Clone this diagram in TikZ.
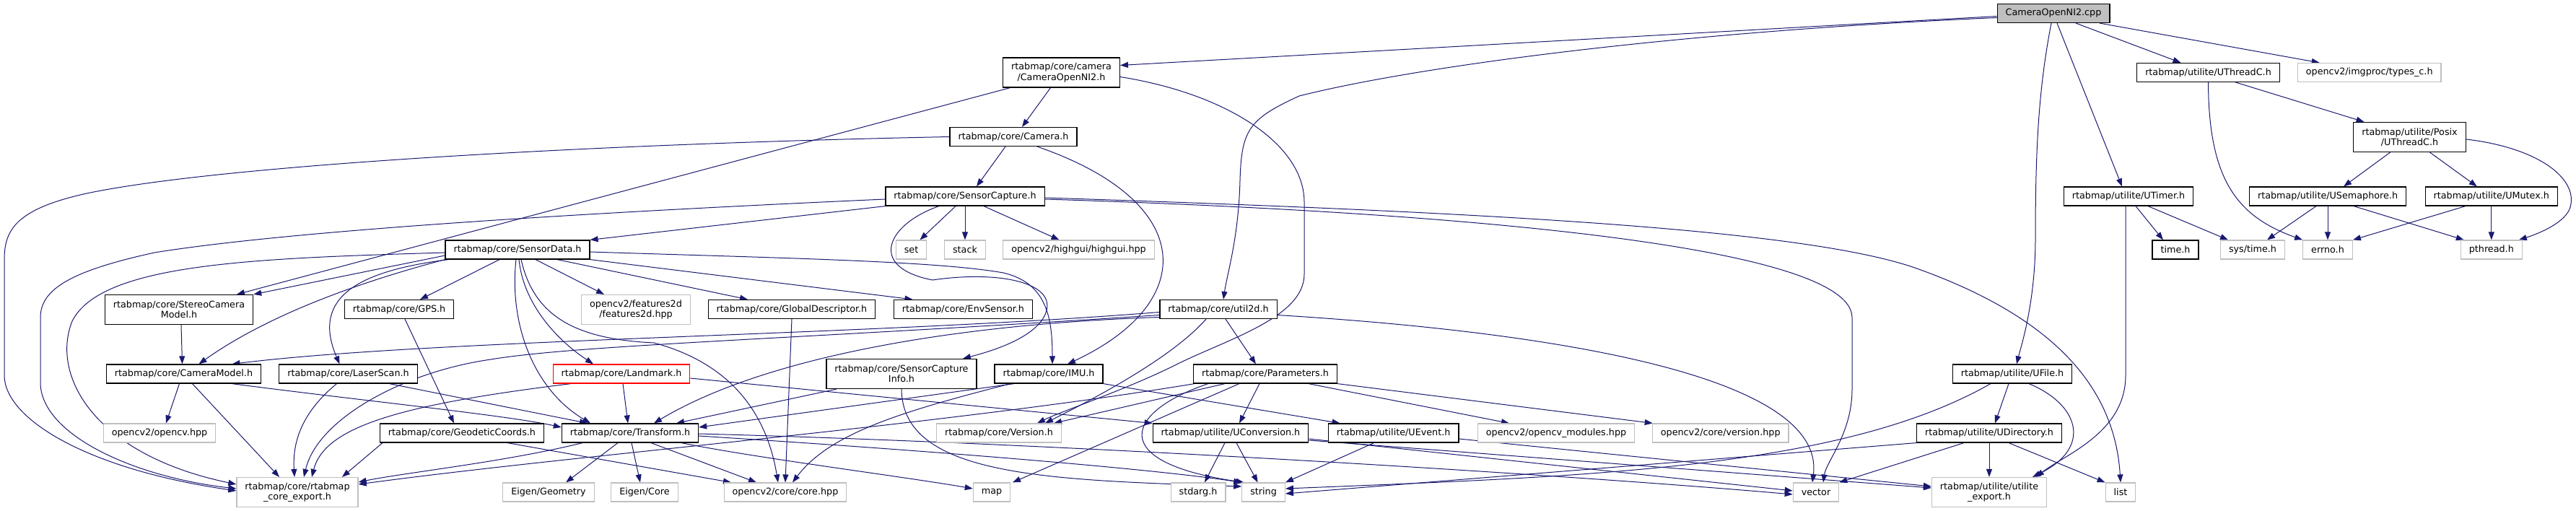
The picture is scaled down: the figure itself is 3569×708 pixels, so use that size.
\documentclass[tikz,border=0pt]{standalone}
\usepackage{fontspec}
\setmainfont{DejaVu Sans}
\usetikzlibrary{arrows.meta}
\definecolor{edgecol}{RGB}{25,25,112}
\definecolor{graybd}{RGB}{191,191,191}
\definecolor{rootfill}{RGB}{191,191,191}
\pgfdeclarelayer{bg}
\pgfsetlayers{bg,main}
\begin{document}
\begin{tikzpicture}[x=1pt,y=-1pt,
  nbase/.style={draw, rectangle, fill=white, inner xsep=11.5pt, inner ysep=0pt, minimum height=26pt,
    font=\fontsize{12.75}{14.3}\selectfont, line width=1.2pt, align=center, anchor=center},
  nd/.style={nbase, draw=black},
  ng/.style={nbase, draw=graybd},
  nroot/.style={nbase, draw=black, fill=rootfill},
  nred/.style={nbase, draw=red},
  ntwo/.style={minimum height=41pt},
  dep/.style={draw=edgecol, line width=1pt, -{Triangle[length=11pt,width=8pt]}}
]
\useasboundingbox (0,0) rectangle (3569,708);

% ---------- nodes ----------
\node[nroot] (cpp) at (2845,18.5) {CameraOpenNI2.cpp};
\node[nd,ntwo] (camh) at (1470.5,100.5) {rtabmap/core/camera\\/CameraOpenNI2.h};
\node[nd] (cam) at (1404,189.5) {rtabmap/core/Camera.h};
\node[nd] (sc) at (1337,272) {rtabmap/core/SensorCapture.h};
\node[ng] (set) at (1262.5,346) {set};
\node[ng] (stack) at (1337,346) {stack};
\node[ng] (hg) at (1494.5,346) {opencv2/highgui/highgui.hpp};
\node[nd] (sd) at (717,346) {rtabmap/core/SensorData.h};
\node[nd] (uth) at (3059.5,100.5) {rtabmap/utilite/UThreadC.h};
\node[ng] (tyc) at (3282.7,100.5) {opencv2/imgproc/types\_c.h};
\node[nd,ntwo] (posix) at (3338.5,190) {rtabmap/utilite/Posix\\/UThreadC.h};
\node[nd] (usem) at (3225,272) {rtabmap/utilite/USemaphore.h};
\node[nd] (umut) at (3451.8,272) {rtabmap/utilite/UMutex.h};
\node[ng] (systm) at (3121,346) {sys/time.h};
\node[ng] (errno) at (3225,346) {errno.h};
\node[ng] (pth) at (3451.8,346) {pthread.h};
\node[nd] (utim) at (2949,272) {rtabmap/utilite/UTimer.h};
\node[nd] (timeh) at (3014,346) {time.h};
\node[nd] (u2d) at (1688,428.5) {rtabmap/core/util2d.h};
\node[nd] (par) at (1753,518) {rtabmap/core/Parameters.h};
\node[nd] (imu) at (1453,518) {rtabmap/core/IMU.h};
\node[nd,ntwo] (sci) at (1249,518) {rtabmap/core/SensorCapture\\Info.h};
\node[nd] (env) at (1334.5,428.5) {rtabmap/core/EnvSensor.h};
\node[nd] (gd) at (1097,428.5) {rtabmap/core/GlobalDescriptor.h};
\node[ng,ntwo] (f2d) at (881,429) {opencv2/features2d\\/features2d.hpp};
\node[nd] (gps) at (553,428.5) {rtabmap/core/GPS.h};
\node[nd,ntwo] (scm) at (248,429) {rtabmap/core/StereoCamera\\Model.h};
\node[nd] (cm) at (254.5,518) {rtabmap/core/CameraModel.h};
\node[nd] (ls) at (482.5,518) {rtabmap/core/LaserScan.h};
\node[nred] (lm) at (861,518) {rtabmap/core/Landmark.h};
\node[ng] (ocv) at (221,600) {opencv2/opencv.hpp};
\node[nd] (geo) at (640,600) {rtabmap/core/GeodeticCoords.h};
\node[nd] (tr) at (873,600) {rtabmap/core/Transform.h};
\node[ng,ntwo] (exp) at (412,682) {rtabmap/core/rtabmap\\\_core\_export.h};
\node[ng] (eg) at (760,682) {Eigen/Geometry};
\node[ng] (ec) at (893,682) {Eigen/Core};
\node[ng] (cch) at (1088,682) {opencv2/core/core.hpp};
\node[ng] (ver) at (1384,600) {rtabmap/core/Version.h};
\node[nd] (uconv) at (1705,600) {rtabmap/utilite/UConversion.h};
\node[nd] (uev) at (1930.6,600) {rtabmap/utilite/UEvent.h};
\node[ng] (ocvm) at (2156,600) {opencv2/opencv\_modules.hpp};
\node[ng] (cvv) at (2383.7,600) {opencv2/core/version.hpp};
\node[ng] (map) at (1374,682) {map};
\node[ng] (stdarg) at (1660,682) {stdarg.h};
\node[ng] (str) at (1750.6,682) {string};
\node[ng] (vec) at (2516,682) {vector};
\node[ng,ntwo] (uexp) at (2756,682) {rtabmap/utilite/utilite\\\_export.h};
\node[ng] (lst) at (2938,682) {list};
\node[nd] (ufile) at (2788,518) {rtabmap/utilite/UFile.h};
\node[nd] (udir) at (2756,600) {rtabmap/utilite/UDirectory.h};

% ---------- edges ----------
\begin{pgfonlayer}{bg}
% CameraOpenNI2.cpp
\draw[dep] ([yshift=-4pt]cpp.west) -- ([yshift=10pt]camh.east);
\draw[dep] ([yshift=-6pt]cpp.west) .. controls (2300,45) and (1950,95) .. (1800,133) .. controls (1730,165) and (1720,180) .. (1718,250) .. controls (1716,330) and (1700,380) .. ([xshift=7pt]u2d.north);
\draw[dep] ([xshift=-3pt]cpp.south) .. controls (2825,120) and (2820,200) .. (2820,330) .. controls (2820,420) and (2800,480) .. ([xshift=6pt]ufile.north);
\draw[dep] ([xshift=5pt]cpp.south) -- ([xshift=-9pt]utim.north);
\draw[dep] ([xshift=31pt]cpp.south) -- ([xshift=-38pt]uth.north);
\draw[dep] ([xshift=64pt]cpp.south) -- ([xshift=-69pt]tyc.north);
% CameraOpenNI2.h
\draw[dep] ([xshift=-71pt]camh.south) -- ([xshift=80pt]scm.north);
\draw[dep] ([xshift=-15pt]camh.south) -- ([xshift=12pt]cam.north);
\draw[dep] ([yshift=-6pt]camh.east) .. controls (1700,130) and (1807,200) .. (1807,280) -- (1807,380) .. controls (1807,440) and (1700,470) .. (1630,505) .. controls (1560,540) and (1470,570) .. ([xshift=53pt]ver.north);
% Camera.h
\draw[dep] (cam.west) .. controls (800,200) and (300,230) .. (120,268) .. controls (20,290) and (6,320) .. (6,360) -- (6,520) .. controls (6,580) and (120,650) .. ([yshift=2pt]exp.west);
\draw[dep] ([xshift=-11pt]cam.south) -- ([xshift=16pt]sc.north);
\draw[dep] ([xshift=33pt]cam.south) .. controls (1660,280) and (1660,420) .. ([xshift=26pt]imu.north);
% SensorCapture.h
\draw[dep] (sc.south west) -- (sd.north east);
\draw[dep] ([yshift=-4pt]sc.west) .. controls (800,295) and (400,320) .. (214,350) .. controls (100,375) and (56,400) .. (56,440) -- (56,530) .. controls (56,600) and (180,660) .. ([yshift=5pt]exp.west);
\draw[dep] ([xshift=-13pt]sc.south) -- ([xshift=12pt]set.north);
\draw[dep] (sc.south) -- (stack.north);
\draw[dep] ([xshift=26pt]sc.south) -- ([xshift=-27pt]hg.north);
\draw[dep] ([xshift=-36pt]sc.south) .. controls (1230,310) and (1200,370) .. (1292,388) .. controls (1380,375) and (1460,390) .. (1450,430) .. controls (1440,470) and (1360,490) .. ([xshift=85pt]sci.north);
\draw[dep] ([yshift=-4pt]sc.east) .. controls (1900,290) and (2566,330) .. (2566,440) -- (2566,540) .. controls (2566,600) and (2530,640) .. ([xshift=10pt]vec.north);
\draw[dep] ([yshift=-2pt]sc.east) .. controls (2100,295) and (2500,320) .. (2650,370) .. controls (2850,440) and (2930,540) .. (lst.north);
% SensorData.h
\draw[dep] ([yshift=-4pt]sd.west) .. controls (350,358) and (140,365) .. (100,445) .. controls (70,520) and (130,630) .. ([yshift=11pt]exp.west);
\draw[dep] ([yshift=-8pt]sd.west) -- (scm.north east);
\draw[dep] (sd.south west) .. controls (520,385) and (380,430) .. ([xshift=21pt]cm.north);
\draw[dep] ([xshift=5pt]sd.south west) .. controls (500,375) and (430,410) .. ([xshift=-12pt]ls.north);
\draw[dep] ([xshift=-25pt]sd.south) -- ([xshift=29pt]gps.north);
\draw[dep] ([xshift=25pt]sd.south) -- ([xshift=-44pt]f2d.north);
\draw[dep] ([xshift=55pt]sd.south) -- ([xshift=-61pt]gd.north);
\draw[dep] (sd.south east) -- ([xshift=-70pt]env.north);
\draw[dep] ([yshift=-3pt]sd.east) .. controls (1100,358) and (1300,362) .. (1390,378) .. controls (1450,392) and (1458,440) .. ([xshift=5pt]imu.north);
\draw[dep] ([xshift=-2pt]sd.south) .. controls (705,450) and (740,540) .. ([xshift=-55pt]tr.north);
\draw[dep] ([xshift=2pt]sd.south) .. controls (725,420) and (770,470) .. ([xshift=-39pt]lm.north);
\draw[dep] ([xshift=5pt]sd.south) .. controls (740,440) and (800,470) .. (906,475) .. controls (1000,500) and (1060,560) .. ([xshift=-10pt]cch.north);
% util2d.h
\draw[dep] ([yshift=-4pt]u2d.west) .. controls (1200,465) and (600,470) .. ([xshift=67pt]cm.north);
\draw[dep] ([yshift=-8pt]u2d.west) .. controls (1100,470) and (800,478) .. (680,498) .. controls (560,515) and (440,580) .. ([xshift=9pt]exp.north);
\draw[dep] ([yshift=-11pt]u2d.west) .. controls (1300,450) and (1050,500) .. ([xshift=33pt]tr.north);
\draw[dep] ([xshift=10pt]u2d.south) -- ([xshift=-13pt]par.north);
\draw[dep] ([xshift=-17pt]u2d.south) .. controls (1620,500) and (1500,560) .. ([xshift=64pt]ver.north);
\draw[dep] ([yshift=-8pt]u2d.east) .. controls (2150,460) and (2530,520) .. ([xshift=-5pt]vec.north);
% Parameters.h
\draw[dep] ([xshift=-56pt]par.south) -- ([xshift=76pt]ver.north);
\draw[dep] ([xshift=-8pt]par.south) -- ([xshift=12pt]uconv.north);
\draw[dep] ([xshift=-36pt]par.south) -- ([xshift=29pt]map.north);
\draw[dep] ([xshift=-79pt]par.south) .. controls (1560,570) and (1530,640) .. ([xshift=-27pt]str.north);
\draw[dep] ([xshift=60pt]par.south) -- ([xshift=-65pt]ocvm.north);
\draw[dep] (par.south east) -- ([xshift=-94pt]cvv.north);
\draw[dep] ([xshift=-98pt]par.south) .. controls (1300,590) and (800,630) .. ([yshift=11pt]exp.east);
% Transform.h
\draw[dep] ([xshift=-66pt]tr.south) .. controls (700,640) and (560,655) .. ([yshift=14pt]exp.east);
\draw[dep] ([xshift=-17pt]tr.south) -- ([xshift=24pt]eg.north);
\draw[dep] ([xshift=2pt]tr.south) -- ([xshift=-6pt]ec.north);
\draw[dep] ([xshift=29pt]tr.south) -- ([xshift=-40pt]cch.north);
\draw[dep] ([xshift=71pt]tr.south) .. controls (1050,635) and (1250,660) .. ([yshift=5pt]map.west);
\draw[dep] ([yshift=-4pt]tr.east) .. controls (1300,625) and (1600,650) .. (str.north west);
\draw[dep] ([yshift=-1pt]tr.east) .. controls (1500,615) and (2200,660) .. ([yshift=-3pt]vec.west);
% GeodeticCoords, GPS, GlobalDescriptor, camera models, scans
\draw[dep] ([xshift=-110pt]geo.south) -- ([xshift=62pt]exp.north);
\draw[dep] ([xshift=63pt]geo.south) -- ([xshift=-75pt]cch.north);
\draw[dep] ([xshift=8pt]gps.south) -- ([xshift=-11pt]geo.north);
\draw[dep] (gd.south) -- (cch.north);
\draw[dep] ([xshift=3pt]scm.south) -- ([xshift=-2pt]cm.north);
\draw[dep] ([xshift=-6pt]cm.south) -- ([xshift=9pt]ocv.north);
\draw[dep] ([xshift=12pt]cm.south) -- ([xshift=-25pt]exp.north);
\draw[dep] ([xshift=67pt]cm.south) .. controls (500,555) and (700,575) .. ([yshift=8pt]tr.west);
\draw[dep] ([xshift=-16pt]ls.south) .. controls (420,570) and (405,610) .. ([xshift=-4pt]exp.north);
\draw[dep] ([xshift=57pt]ls.south) -- ([xshift=-59pt]tr.north);
% Landmark.h
\draw[dep] ([xshift=2pt]lm.south) -- ([xshift=-3pt]tr.north);
\draw[dep] ([xshift=-70pt]lm.south) .. controls (560,560) and (450,590) .. ([xshift=20pt]exp.north);
\draw[dep] ([yshift=-6pt]lm.east) -- (uconv.north west);
% IMU.h
\draw[dep] (imu.south east) -- ([xshift=-74pt]uev.north);
\draw[dep] ([xshift=-48pt]imu.south) -- ([yshift=8pt]tr.east);
\draw[dep] ([xshift=-53pt]imu.south) .. controls (1250,570) and (1150,600) .. ([xshift=10pt]cch.north);
% SensorCaptureInfo.h
\draw[dep] ([xshift=-90pt]sci.south) -- ([xshift=64pt]tr.north);
\draw[dep] (sci.south) .. controls (1250,660) and (1450,665) .. ([yshift=8pt]str.west);
% UConversion.h, UEvent.h
\draw[dep] ([xshift=-8pt]uconv.south) -- ([xshift=9pt]stdarg.north);
\draw[dep] ([xshift=8pt]uconv.south) -- ([xshift=-8pt]str.north);
\draw[dep] ([yshift=-8pt]uconv.east) -- ([yshift=2pt]vec.west);
\draw[dep] ([yshift=-10pt]uconv.east) -- ([yshift=6pt]uexp.west);
\draw[dep] ([xshift=-27pt]uev.south) -- (str.north east);
\draw[dep] ([yshift=-8pt]uev.east) -- ([yshift=8pt]uexp.west);
% UFile.h, UDirectory.h
\draw[dep] ([xshift=-5pt]ufile.south) -- ([xshift=8pt]udir.north);
\draw[dep] ([xshift=23pt]ufile.south) .. controls (2880,560) and (2900,620) .. ([xshift=60pt]uexp.north);
\draw[dep] ([xshift=-30pt]ufile.south) .. controls (2550,650) and (2200,660) .. ([yshift=5pt]str.east);
\draw[dep] (udir.south west) -- ([yshift=-2pt]str.east);
\draw[dep] ([xshift=-35pt]udir.south) -- (vec.north east);
\draw[dep] (udir.south) -- (uexp.north);
\draw[dep] ([xshift=27pt]udir.south) -- (lst.north west);
% UTimer.h
\draw[dep] ([xshift=10pt]utim.south) -- ([xshift=-17pt]timeh.north);
\draw[dep] ([xshift=27pt]utim.south) -- ([xshift=-34pt]systm.north);
\draw[dep] ([xshift=-4pt]utim.south) .. controls (2945,400) and (2945,460) .. (2945,520) .. controls (2945,600) and (2860,630) .. ([xshift=65pt]uexp.north);
% UThreadC.h and Posix
\draw[dep] ([xshift=38pt]uth.south) -- ([xshift=-63pt]posix.north);
\draw[dep] (uth.south) .. controls (3060,250) and (3100,300) .. (errno.north west);
\draw[dep] ([xshift=-27pt]posix.south) -- ([xshift=22pt]usem.north);
\draw[dep] ([xshift=28pt]posix.south) -- ([xshift=-20pt]umut.north);
\draw[dep] ([yshift=-3pt]posix.east) .. controls (3520,205) and (3575,250) .. (3560,290) .. controls (3550,312) and (3510,326) .. ([xshift=38pt]pth.north);
\draw[dep] ([xshift=-16pt]usem.south) -- ([xshift=20pt]systm.north);
\draw[dep] (usem.south) -- (errno.north);
\draw[dep] ([xshift=36pt]usem.south) -- ([xshift=-38pt]pth.north);
\draw[dep] ([xshift=-36pt]umut.south) -- (errno.north east);
\draw[dep] (umut.south) -- (pth.north);
\end{pgfonlayer}
\end{tikzpicture}
\end{document}
